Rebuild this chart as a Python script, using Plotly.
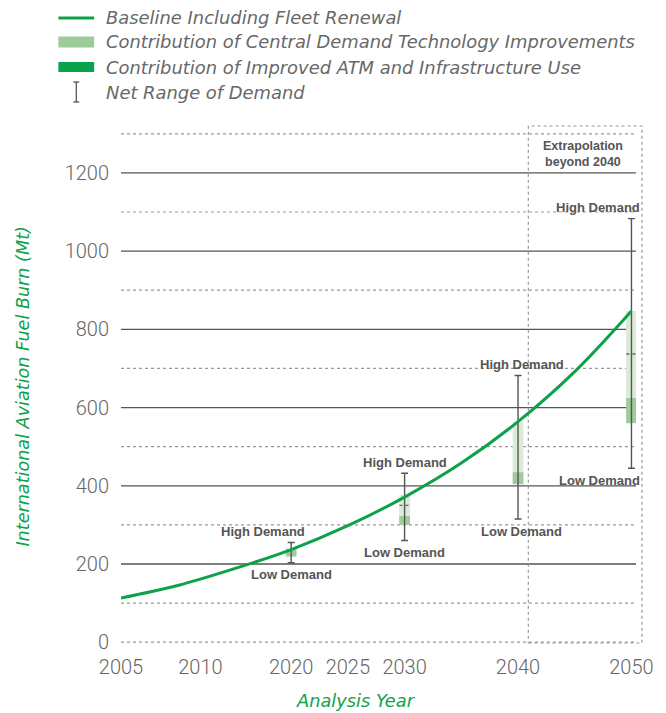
import plotly.graph_objects as go

# ---- data ----
baseline_years = [2005, 2010, 2015, 2020, 2025, 2030, 2035, 2040, 2045, 2050]
baseline_fuel = [113, 145, 188, 237, 298, 371, 458, 564, 692, 847]

bar_years = [2020, 2030, 2040, 2050]
bar_top = [239, 377, 564, 847]        # baseline value at the analysis year
bar_mid = [239, 323, 435, 625]        # after technology improvements
bar_low = [219, 300, 404, 560]        # after ATM & infrastructure improvements
range_high = [255, 432, 682, 1083]    # net range of demand (high)
range_low = [203, 260, 315, 445]      # net range of demand (low)

dash_years = [2030, 2050]
dash_values = [350, 737]

x_tick_positions = [2005, 2012, 2020, 2025, 2030, 2040, 2050]
x_tick_labels = ["2005", "2010", "2020", "2025", "2030", "2040", "2050"]
y_tick_values = [0, 200, 400, 600, 800, 1000, 1200]
y_solid_grid = [200, 400, 600, 800, 1000, 1200]
y_dotted_grid = [0, 100, 300, 500, 700, 900, 1100, 1300]

legend_labels = [
    "Baseline Including Fleet Renewal",
    "Contribution of Central Demand Technology Improvements",
    "Contribution of Improved ATM and Infrastructure Use",
    "Net Range of Demand",
]

# ---- styles ----
GREEN = "#0da24a"
LIGHT = "#dcebd8"
MEDIUM = "#a0cc9d"
GRAY_TXT = "#555555"
LEG_TXT = "#686868"
TICK_TXT = "#666666"
FONT = "Roboto"
LEG_FONT = "DejaVu Sans"
BOLD_FONT = "Liberation Sans"

# page is offset by the browser's 8px body margin
OFF = 8
FIG_W, FIG_H = 666 - OFF, 713 - OFF
L, T, PW, PH = 121, 133, 518, 510   # plot area in page pixels


def px(xp):
    return (xp - L) / PW


def py(yp):
    return (T + PH - yp) / PH


fig = go.Figure()

fig.add_trace(go.Bar(
    x=bar_years, base=bar_low, y=[m - l for m, l in zip(bar_mid, bar_low)],
    marker=dict(color=MEDIUM, line=dict(width=0)), width=0.95, showlegend=False,
    hoverinfo="skip"))
fig.add_trace(go.Bar(
    x=bar_years, base=bar_mid, y=[t - m for t, m in zip(bar_top, bar_mid)],
    marker=dict(color=LIGHT, line=dict(width=0)), width=0.95, showlegend=False,
    hoverinfo="skip"))

for yr, v in zip(dash_years, dash_values):
    fig.add_trace(go.Scatter(
        x=[yr - 0.45, yr + 0.45], y=[v, v], mode="lines",
        line=dict(color="#666666", width=1.4, dash="dot"),
        showlegend=False, hoverinfo="skip"))

fig.add_trace(go.Scatter(
    x=bar_years, y=range_low, mode="markers",
    marker=dict(size=1, color="rgba(0,0,0,0)"),
    error_y=dict(type="data", symmetric=False,
                 array=[h - l for h, l in zip(range_high, range_low)],
                 arrayminus=[0] * len(bar_years),
                 color="#555555", thickness=1.4, width=3.5),
    showlegend=False, hoverinfo="skip"))

fig.add_trace(go.Scatter(
    x=baseline_years, y=baseline_fuel, mode="lines",
    line=dict(color=GREEN, width=3, shape="spline", smoothing=1.0),
    showlegend=False))

shapes = []
for v in y_solid_grid:
    shapes.append(dict(type="line", xref="paper", x0=0, x1=1, yref="y", y0=v, y1=v,
                       line=dict(color="#555555", width=1.3), layer="below"))
for v in y_dotted_grid:
    shapes.append(dict(type="line", xref="paper", x0=0, x1=1, yref="y", y0=v, y1=v,
                       line=dict(color="#999999", width=1.2, dash="dot"), layer="below"))

shapes.append(dict(type="rect", xref="paper", yref="paper",
                   x0=px(530.7), x1=px(645), y0=py(643), y1=py(126),
                   line=dict(color="#999999", width=1.2, dash="dot"), layer="below"))

leg_rows = [18, 42, 67, 92]
shapes.append(dict(type="line", xref="paper", yref="paper", x0=px(58), x1=px(94),
                   y0=py(leg_rows[0]), y1=py(leg_rows[0]), line=dict(color=GREEN, width=3)))
shapes.append(dict(type="rect", xref="paper", yref="paper", x0=px(58), x1=px(94),
                   y0=py(leg_rows[1] + 5.5), y1=py(leg_rows[1] - 5.5),
                   fillcolor="#9dcb9b", line=dict(width=0)))
shapes.append(dict(type="rect", xref="paper", yref="paper", x0=px(58), x1=px(94),
                   y0=py(leg_rows[2] + 5), y1=py(leg_rows[2] - 5),
                   fillcolor="#0aa14b", line=dict(width=0)))
shapes.append(dict(type="line", xref="paper", yref="paper", x0=px(76), x1=px(76),
                   y0=py(leg_rows[3] - 10), y1=py(leg_rows[3] + 10),
                   line=dict(color="#555555", width=1.3)))
for yy in (leg_rows[3] - 10, leg_rows[3] + 10):
    shapes.append(dict(type="line", xref="paper", yref="paper", x0=px(73), x1=px(79),
                       y0=py(yy), y1=py(yy), line=dict(color="#555555", width=1.3)))

annotations = []
for lab, r in zip(legend_labels, leg_rows):
    annotations.append(dict(xref="paper", yref="paper", x=px(104), y=py(r),
                            xanchor="left", yanchor="middle", showarrow=False, text=lab,
                            font=dict(family=LEG_FONT, size=17.9, color=LEG_TXT,
                                      style="italic", weight=300)))

high_xshift = [-28, 0, 4, -33]
low_xshift = [0, 0, 3, -32]
for yr, hi, lo, hx, lx in zip(bar_years, range_high, range_low, high_xshift, low_xshift):
    annotations.append(dict(x=yr, y=hi, xref="x", yref="y", text="High Demand", showarrow=False,
                            xshift=hx, yshift=11, yanchor="middle",
                            font=dict(family=BOLD_FONT, size=13, color=GRAY_TXT, weight="bold")))
    annotations.append(dict(x=yr, y=lo, xref="x", yref="y", text="Low Demand", showarrow=False,
                            xshift=lx, yshift=-12, yanchor="middle",
                            font=dict(family=BOLD_FONT, size=13, color=GRAY_TXT, weight="bold")))

annotations.append(dict(xref="paper", yref="paper", x=px(586), y=py(154.5),
                        text="Extrapolation<br>beyond 2040", showarrow=False,
                        xanchor="center", yanchor="middle",
                        font=dict(family=BOLD_FONT, size=12.5, color=GRAY_TXT, weight="bold")))

annotations.append(dict(xref="paper", yref="paper", x=px(22), y=py(387), textangle=-90,
                        text="International Aviation Fuel Burn (Mt)", showarrow=False,
                        xanchor="center", yanchor="middle",
                        font=dict(family=LEG_FONT, size=17.6, color=GREEN, style="italic",
                                  weight=300)))
annotations.append(dict(xref="paper", yref="paper", x=px(357), y=py(700),
                        text="Analysis Year", showarrow=False,
                        xanchor="center", yanchor="middle",
                        font=dict(family=LEG_FONT, size=17.8, color=GREEN, style="italic",
                                  weight=300)))

fig.update_layout(
    width=FIG_W, height=FIG_H,
    margin=dict(l=L - OFF, r=FIG_W - (L - OFF) - PW, t=T - OFF, b=FIG_H - (T - OFF) - PH, pad=0),
    paper_bgcolor="white", plot_bgcolor="white",
    barmode="overlay", showlegend=False,
    shapes=shapes, annotations=annotations,
    xaxis=dict(range=[2005, 2050.4], tickmode="array", tickvals=x_tick_positions,
               ticktext=x_tick_labels, showgrid=False, zeroline=False, showline=False,
               ticks="", ticklabelstandoff=10,
               tickfont=dict(family=FONT, size=20, color=TICK_TXT, weight=300)),
    yaxis=dict(range=[-2, 1302], tickmode="array", tickvals=y_tick_values,
               showgrid=False, zeroline=False, showline=False, ticks="",
               ticklabelstandoff=11,
               tickfont=dict(family=FONT, size=20, color=TICK_TXT, weight=300)),
)

fig.write_html("out.html")
